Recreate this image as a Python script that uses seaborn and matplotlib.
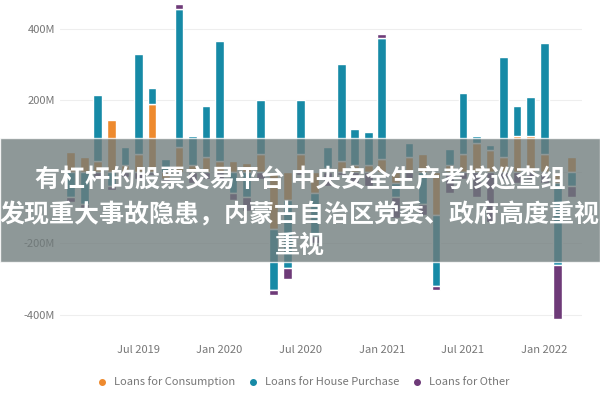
import numpy as np
import pandas as pd
import matplotlib
matplotlib.use('Agg')
import matplotlib.pyplot as plt
from matplotlib.lines import Line2D
import seaborn as sns

months = pd.date_range('2019-02-01', '2022-03-01', freq='MS')
consumption = [55, 40, 30, 145, 20, 50, 190, -20, 70, 20, 40, 30, 30, 25, 50, -160, -80, 50, -60,
               10, 30, 20, 20, 35, -30, 40, 50, -120, 20, 50, 80, 60, 40, 100, 100, 50, -30, 40]
house = [-70, -90, 185, -40, 50, 280, 45, 35, 385, 80, 145, 335, -60, -70, 150, -170, -190, 150, -120,
         60, 270, 100, 90, 340, -40, 40, -90, -200, 45, 170, 20, 15, 280, 85, 110, 310, -230, -40]
other = [-15, -10, -20, -10, -15, -20, -10, -10, 15, -30, -20, -25, -20, -40, -20, -15, -30, -10, -20,
         -40, -10, -30, -40, 10, -60, -20, -30, -10, -60, -20, -70, -140, -20, -30, -20, -30, -150, -30]
series = {'Loans for Consumption': consumption,
          'Loans for House Purchase': house,
          'Loans for Other': other}
colors = ['#EE8A2E', '#168AA6', '#6E3A78']
tick_labels = ['Jul 2019', 'Jan 2020', 'Jul 2020', 'Jan 2021', 'Jul 2021', 'Jan 2022']
tick_dates = ['2019-07-01', '2020-01-01', '2020-07-01', '2021-01-01', '2021-07-01', '2022-01-01']

sns.set_theme(style='white')
plt.rcParams['font.family'] = ['Noto Sans CJK SC', 'DejaVu Sans']

fig = plt.figure(figsize=(6, 4), dpi=100)
ax = fig.add_axes([0.1, 0.15, 0.87, 0.85])

x = np.arange(len(months))
pos_base = np.zeros(len(months))
neg_base = np.zeros(len(months))
for (name, vals), col in zip(series.items(), colors):
    v = np.array(vals, dtype=float)
    base = np.where(v >= 0, pos_base, neg_base)
    df = pd.DataFrame({'x': x, 'v': v})
    sns.barplot(data=df, x='x', y='v', color=col, bottom=base, width=0.65,
                saturation=1, ax=ax, native_scale=True)
    pos_base += np.where(v >= 0, v, 0)
    neg_base += np.where(v < 0, v, 0)

ax.set_ylim(-470, 480)
ax.set_xlim(-0.8, len(months) - 0.2)
ax.set_yticks([-400, -200, 0, 200, 400])
# 0M label sits under the caption band in the reference
ax.set_yticklabels(['-400M', '-200M', '', '200M', '400M'], color='#777777', fontsize=8)
idx = [list(months).index(pd.Timestamp(d)) for d in tick_dates]
ax.set_xticks(idx)
ax.set_xticklabels(tick_labels, color='#777777', fontsize=8)
ax.set_xlabel('')
ax.set_ylabel('')
ax.yaxis.grid(True, color='#eeeeee', linewidth=0.8)
ax.set_axisbelow(True)
ax.tick_params(length=0)
for s in ax.spines.values():
    s.set_visible(False)

hs = [Line2D([], [], marker='o', linestyle='', color=c, markersize=4) for c in colors]
fig.legend(hs, list(series.keys()), loc='center', bbox_to_anchor=(0.5, 0.045), ncol=3,
           frameon=False, fontsize=8, handletextpad=0.1, columnspacing=0.6,
           labelcolor='#777777')

# caption band overlay
fig.patches.append(plt.Rectangle((0, 0.345), 1, 0.31, transform=fig.transFigure,
                                 facecolor='#6F7B7B', alpha=0.78, zorder=5))
fig.text(0.5, 0.55, '有杠杆的股票交易平台 中央安全生产考核巡查组', ha='center', va='center',
         color='white', fontsize=18, fontweight='bold', zorder=6)
fig.text(0.5, 0.4625, '发现重大事故隐患，内蒙古自治区党委、政府高度重视', ha='center', va='center',
         color='white', fontsize=18, fontweight='bold', zorder=6)
fig.text(0.5, 0.385, '重视', ha='center', va='center',
         color='white', fontsize=18, fontweight='bold', zorder=6)

fig.savefig('out.png', dpi=100)
